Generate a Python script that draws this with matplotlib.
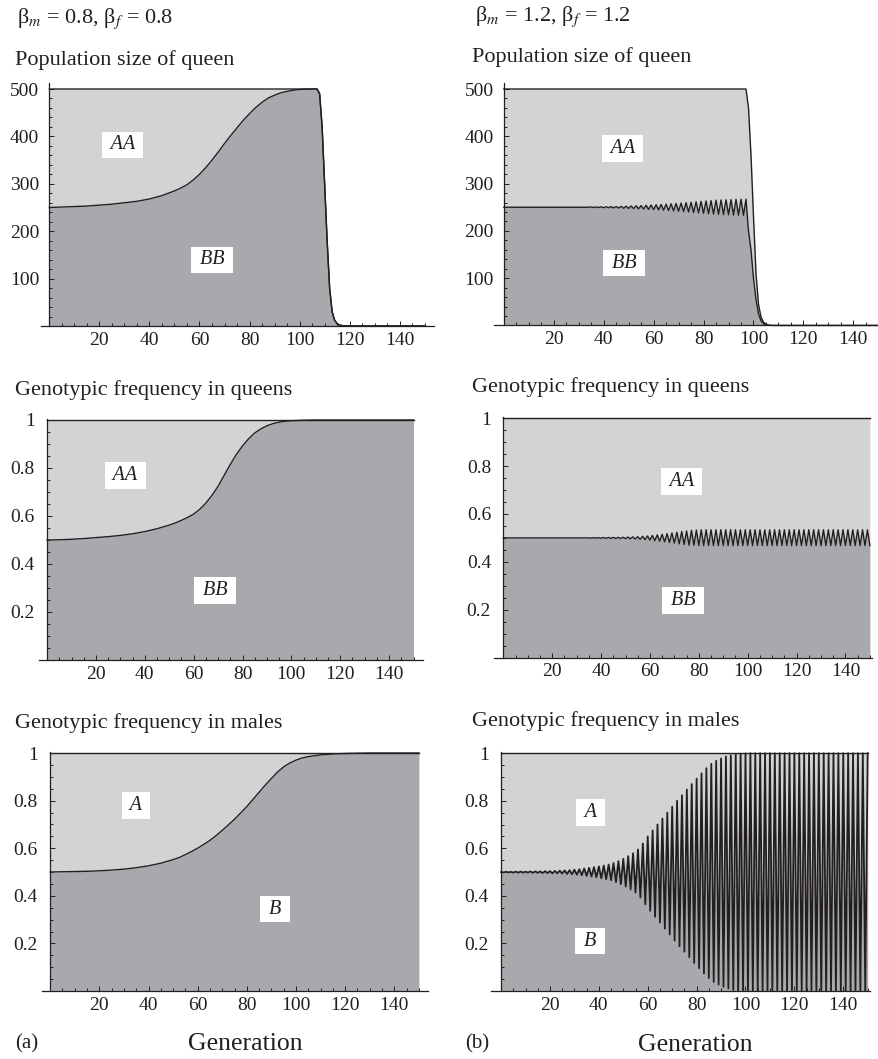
import matplotlib.pyplot as plt
from matplotlib.ticker import FixedLocator, FixedFormatter

plt.rcParams['font.family'] = ['Liberation Serif', 'DejaVu Serif']
plt.rcParams['mathtext.fontset'] = 'stix'
plt.rcParams['text.color'] = '#231f20'

W, H = 879, 1059
LIGHT = '#d1d3d4'
DARK = '#a7a9ac'
INK = '#231f20'

# ---------------- (a) beta_m = beta_f = 0.8 ----------------
gen_a_pop = [0, 5, 10, 15, 20, 25, 30, 35, 40, 45, 50,
             52.5, 55, 57.5, 60, 62.5, 65, 67.5, 70, 72.5, 75, 77.5, 80, 82.5, 85, 87.5, 90,
             92.5, 95, 97.5, 100, 102.5, 105,
             106, 107, 108, 109, 110, 111, 112, 113, 114, 115, 116, 117, 118, 119, 120,
             125, 130, 135, 140, 145, 150]
pop_total_a = [500, 500, 500, 500, 500, 500, 500, 500, 500, 500, 500,
               500, 500, 500, 500, 500, 500, 500, 500, 500, 500, 500, 500, 500, 500, 500, 500,
               500, 500, 500, 500, 500, 500,
               500, 500, 490, 420, 300, 180, 80, 30, 12, 5, 2, 0.8, 0.3, 0.1, 0,
               0, 0, 0, 0, 0, 0]
pop_bb_a = [250, 251, 252, 253, 255, 257, 260, 263, 268, 275, 285,
            291, 298, 308, 320, 334, 350, 367, 385, 402, 418, 434, 448, 461, 472, 481, 487,
            492, 495, 497.5, 499, 499.7, 500,
            500, 500, 490, 420, 300, 180, 80, 30, 12, 5, 2, 0.8, 0.3, 0.1, 0,
            0, 0, 0, 0, 0, 0]

gen_a = [0, 5, 10, 15, 20, 25, 30, 35, 40, 45, 50,
         52.5, 55, 57.5, 60, 62.5, 65, 67.5, 70, 72.5, 75, 77.5, 80, 82.5, 85, 87.5, 90,
         92.5, 95, 97.5, 100, 102.5, 105,
         110, 115, 120, 125, 130, 135, 140, 145, 150]
queen_bb_a = [0.500, 0.501, 0.503, 0.506, 0.510, 0.514, 0.519, 0.526, 0.535, 0.547, 0.562,
              0.571, 0.582, 0.594, 0.608, 0.628, 0.654, 0.686, 0.724, 0.770, 0.815, 0.857, 0.892, 0.922, 0.946, 0.963, 0.976,
              0.985, 0.991, 0.995, 0.997, 0.998, 0.999,
              1, 1, 1, 1, 1, 1, 1, 1, 1]
male_b_a = [0.500, 0.501, 0.502, 0.503, 0.505, 0.508, 0.512, 0.518, 0.526, 0.537, 0.552,
            0.561, 0.573, 0.586, 0.600, 0.616, 0.633, 0.653, 0.675, 0.698, 0.722, 0.748, 0.775, 0.805, 0.835, 0.865, 0.893,
            0.920, 0.942, 0.958, 0.970, 0.979, 0.985,
            0.992, 0.996, 0.998, 0.999, 1, 1, 1, 1, 1]

# ---------------- (b) beta_m = beta_f = 1.2 (generation 0..150) ----------------
gen_b = list(range(151))
pop_total_b = [500] * 98 + [460, 360, 230, 110, 45, 18, 7, 2.5, 0.8, 0.2] + [0] * 43
pop_bb_b = [250] * 35 + [
    250.5, 249.5, 250.6, 249.4, 250.8, 249.0,
    251.1, 248.8, 251.3, 248.6, 251.5, 248.3, 251.9, 247.9, 252.3, 247.5,
    252.7, 247.1, 253.1, 246.7, 253.5, 246.2, 254.1, 245.6, 254.7, 245.0,
    255.3, 244.4, 255.9, 243.8, 256.5, 243.1, 257.3, 242.3, 258.1, 241.5,
    258.9, 240.7, 259.7, 239.9, 260.5, 239.0, 261.5, 238.0, 262.5, 237.0,
    263.4, 236.2, 264.2, 235.4, 265.0, 234.8, 265.4, 234.4, 265.8, 234.0,
    266.2, 233.6, 266.6, 233.2, 267.0, 233.0, 267.0, 200, 160, 100,
    55, 25, 10, 4, 1.5, 0.5, 0.1] + [0] * 43
queen_bb_b = [0.5] * 36 + [
    0.499, 0.501, 0.499, 0.501, 0.4985,
    0.5016, 0.4983, 0.5018, 0.4981, 0.502, 0.4978, 0.5024, 0.4974, 0.5028, 0.497,
    0.5034, 0.4962, 0.5042, 0.4954, 0.505, 0.4942, 0.5066, 0.4926, 0.5082, 0.491,
    0.5102, 0.4886, 0.5126, 0.4862, 0.515, 0.4836, 0.5178, 0.4808, 0.5206, 0.478,
    0.5234, 0.4752, 0.5262, 0.4724, 0.529, 0.470, 0.532, 0.469, 0.533, 0.468,
    0.534, 0.468, 0.534, 0.468, 0.534, 0.468, 0.534, 0.468, 0.534, 0.468,
    0.534, 0.468, 0.534, 0.468, 0.534, 0.468, 0.534, 0.468, 0.534, 0.468,
    0.534, 0.468, 0.534, 0.468, 0.534, 0.468, 0.534, 0.468, 0.534, 0.468,
    0.534, 0.468, 0.534, 0.468, 0.534, 0.468, 0.534, 0.468, 0.534, 0.468,
    0.534, 0.468, 0.534, 0.468, 0.534, 0.468, 0.534, 0.468, 0.534, 0.468,
    0.534, 0.468, 0.534, 0.468, 0.534, 0.468, 0.534, 0.468, 0.534, 0.468,
    0.534, 0.468, 0.534, 0.468, 0.534, 0.468, 0.534, 0.468, 0.534, 0.468]
male_b_b = [0.500,
    0.499, 0.501, 0.499, 0.501, 0.498, 0.502, 0.498, 0.502, 0.498, 0.502,
    0.498, 0.503, 0.497, 0.503, 0.497, 0.503, 0.496, 0.504, 0.496, 0.504,
    0.495, 0.505, 0.495, 0.506, 0.494, 0.507, 0.492, 0.508, 0.491, 0.510,
    0.489, 0.512, 0.487, 0.515, 0.484, 0.518, 0.481, 0.521, 0.478, 0.524,
    0.474, 0.528, 0.470, 0.532, 0.466, 0.538, 0.458, 0.546, 0.449, 0.556,
    0.439, 0.567, 0.427, 0.579, 0.414, 0.595, 0.393, 0.620, 0.365, 0.650,
    0.337, 0.675, 0.312, 0.700, 0.288, 0.725, 0.262, 0.750, 0.238, 0.775,
    0.212, 0.800, 0.188, 0.823, 0.165, 0.847, 0.142, 0.870, 0.118, 0.893,
    0.096, 0.915, 0.074, 0.937, 0.054, 0.955, 0.038, 0.968, 0.027, 0.978,
    0.018, 0.986, 0.011, 0.991, 0.007, 0.995, 0.003, 0.998, 0.001, 0.999,
    0, 1, 0, 1, 0, 1, 0, 1, 0, 1,
    0, 1, 0, 1, 0, 1, 0, 1, 0, 1,
    0, 1, 0, 1, 0, 1, 0, 1, 0, 1,
    0, 1, 0, 1, 0, 1, 0, 1, 0, 1,
    0, 1, 0, 1, 0, 1, 0, 1, 0, 1]

x_major = [20, 40, 60, 80, 100, 120, 140]
pop_major = [100, 200, 300, 400, 500]
freq_major = [0.2, 0.4, 0.6, 0.8, 1.0]
freq_labels = ['0.2', '0.4', '0.6', '0.8', '1']


def add_panel(fig, x0, sx, y0, sy, xlim, ylim):
    # x0/y0: pixel of the data origin, sx/sy: pixels per data unit
    left = (x0 + xlim[0] * sx) / W
    width = (xlim[1] - xlim[0]) * sx / W
    bottom = 1 - y0 / H
    height = ylim[1] * sy / H
    ax = fig.add_axes([left, bottom, width, height])
    ax.set_xlim(xlim)
    ax.set_ylim(ylim)
    ax.patch.set_alpha(0)
    for s in ['top', 'right']:
        ax.spines[s].set_visible(False)
    ax.spines['left'].set_position(('data', 0))
    for s in ['left', 'bottom']:
        ax.spines[s].set_color(INK)
        ax.spines[s].set_linewidth(0.9)
    ax.xaxis.set_major_locator(FixedLocator(x_major))
    ax.xaxis.set_minor_locator(FixedLocator([v for v in range(5, 151, 5) if v % 20]))
    ax.tick_params(which='both', direction='in', colors=INK, width=0.7, labelsize=14)
    ax.tick_params(which='major', length=3.8)
    ax.tick_params(which='minor', length=2)
    ax.tick_params(axis='x', pad=4.3)
    return ax


def pop_axis(ax):
    ax.yaxis.set_major_locator(FixedLocator(pop_major))
    ax.yaxis.set_minor_locator(FixedLocator([v for v in range(20, 500, 20) if v % 100]))
    ax.tick_params(axis='y', pad=7.3)


def freq_axis(ax):
    ax.yaxis.set_major_locator(FixedLocator(freq_major))
    ax.yaxis.set_major_formatter(FixedFormatter(freq_labels))
    ax.yaxis.set_minor_locator(FixedLocator([i * 0.05 for i in range(1, 20) if i % 4]))
    ax.tick_params(axis='y', pad=8.8)


def box_label(ax, x, y, s):
    ax.text(x, y, ' ' + s + ' ', style='italic', fontsize=14.5, color=INK, ha='center', va='center',
            bbox=dict(boxstyle='square,pad=0.18', fc='white', ec='none'), zorder=5)


fig = plt.figure(figsize=(W / 100, H / 100), dpi=100)

# ---- top row: population size ----
for (gens, bb, total, geo, lab) in [
        (gen_a_pop, pop_bb_a, pop_total_a, (49.3, 2.503, 326, 0.474, (-3.2, 153.7)), [(29.4, 382), (65, 140)]),
        (gen_b, pop_bb_b, pop_total_b, (503.8, 2.497, 325.5, 0.473, (-4, 151.5)), [(47.7, 374), (48.1, 131.5)])]:
    ax = add_panel(fig, geo[0], geo[1], geo[2], geo[3], geo[4], (0, 513))
    pop_axis(ax)
    ax.fill_between(gens, 0, bb, color=DARK, lw=0)
    ax.fill_between(gens, bb, total, color=LIGHT, lw=0)
    ax.plot(gens, total, color=INK, lw=1.0, clip_on=False)
    ax.plot(gens, bb, color=INK, lw=1.0)
    box_label(ax, lab[0][0], lab[0][1], 'AA')
    box_label(ax, lab[1][0], lab[1][1], 'BB')

# ---- middle row: queens, bottom row: males ----
for (gens, curve, geo, lab, names, lw) in [
        (gen_a, queen_bb_a, (47.1, 2.443, 660, 240, (-3.2, 153.7)), [(31.9, 0.769), (68.7, 0.29)], ['AA', 'BB'], 1.0),
        (gen_b, queen_bb_b, (503.3, 2.444, 657.5, 239.2, (-4, 151)), [(73.1, 0.736), (73.5, 0.238)], ['AA', 'BB'], 1.0),
        (gen_a, male_b_a, (50.2, 2.458, 991, 238, (-3.2, 153.7)), [(34.9, 0.779), (91.5, 0.344)], ['A', 'B'], 1.0),
        (gen_b, male_b_b, (501.1, 2.444, 991, 237.8, (-4, 151)), [(36.7, 0.751), (36.4, 0.21)], ['A', 'B'], 1.3)]:
    ax = add_panel(fig, geo[0], geo[1], geo[2], geo[3], geo[4], (0, 1.006))
    freq_axis(ax)
    ax.fill_between(gens, 0, curve, color=DARK, lw=0)
    ax.fill_between(gens, curve, 1.0, color=LIGHT, lw=0)
    ax.plot([gens[0], gens[-1]], [1, 1], color=INK, lw=1.0, clip_on=False)
    ax.plot(gens, curve, color=INK, lw=lw)
    box_label(ax, lab[0][0], lab[0][1], names[0])
    box_label(ax, lab[1][0], lab[1][1], names[1])


def fig_text(x, y, s, size, ha='left'):
    fig.text(x / W, 1 - y / H, s, fontsize=size, ha=ha, va='baseline', color=INK)


fig_text(16.7, 23.3, r'β$_{m}$ = 0.8, β$_{f}$ = 0.8', 16)
fig_text(475, 21, r'β$_{m}$ = 1.2, β$_{f}$ = 1.2', 16)
fig_text(15, 65, 'Population size of queen', 16)
fig_text(471.7, 62.3, 'Population size of queen', 16)
fig_text(15, 395, 'Genotypic frequency in queens', 16)
fig_text(471.7, 392.3, 'Genotypic frequency in queens', 16)
fig_text(15, 727.7, 'Genotypic frequency in males', 16)
fig_text(471.7, 725.7, 'Genotypic frequency in males', 16)
fig_text(15, 1048.3, '(a)', 15)
fig_text(465, 1048, '(b)', 15)
fig_text(245.8, 1050, 'Generation', 18.5, ha='center')
fig_text(695.8, 1050.7, 'Generation', 18.5, ha='center')

fig.savefig('out.png', dpi=100)
